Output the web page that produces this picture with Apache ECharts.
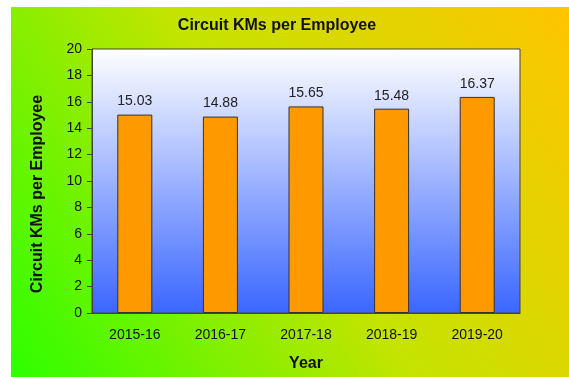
<!DOCTYPE html>
<html>
<head>
<meta charset="utf-8">
<script src="https://cdn.jsdelivr.net/npm/echarts@6/dist/echarts.min.js"></script>
<style>
  html, body { margin: 0; padding: 0; background: #ffffff; width: 569px; height: 377px; overflow: hidden; }
  #chart { position: absolute; left: 11px; top: 7px; width: 558px; height: 370px; }
</style>
</head>
<body>
<div id="chart"></div>
<script>
// Financial years and circuit kilometres per employee
const years = ['2015-16', '2016-17', '2017-18', '2018-19', '2019-20'];
const kmPerEmployee = [15.03, 14.88, 15.65, 15.48, 16.37];
const yTicks = { min: 0, max: 20, interval: 2 };

const font = '"Liberation Sans", Arial, sans-serif';
const chart = echarts.init(document.getElementById('chart'), null, { renderer: 'canvas' });

chart.setOption({
  animation: false,
  backgroundColor: new echarts.graphic.LinearGradient(0, 1, 1, 0, [
    { offset: 0, color: '#2cff00' },
    { offset: 0.5, color: '#c4e400' },
    { offset: 1, color: '#ffc400' }
  ]),
  title: {
    text: 'Circuit KMs per Employee',
    left: 261,
    textAlign: 'center',
    top: 6,
    textStyle: { fontFamily: font, fontSize: 16, fontWeight: 'bold', color: '#111' }
  },
  grid: {
    left: 81, top: 42, width: 428, height: 269,
    show: true,
    borderColor: '#444',
    borderWidth: 1,
    backgroundColor: new echarts.graphic.LinearGradient(0, 0, 0, 1, [
      { offset: 0, color: '#ffffff' },
      { offset: 1, color: '#3a66ff' }
    ])
  },
  xAxis: {
    type: 'category',
    data: years,
    name: 'Year',
    nameLocation: 'middle',
    nameGap: 43,
    nameTextStyle: { fontFamily: font, fontSize: 16, fontWeight: 'bold', color: '#111' },
    axisLine: { lineStyle: { color: '#444' } },
    axisTick: { show: false },
    axisLabel: { fontFamily: font, fontSize: 14, color: '#111', margin: 15 }
  },
  yAxis: {
    type: 'value',
    min: yTicks.min, max: yTicks.max, interval: yTicks.interval,
    name: 'Circuit KMs per Employee',
    nameLocation: 'middle',
    nameGap: 46,
    nameTextStyle: { fontFamily: font, fontSize: 16, fontWeight: 'bold', color: '#111', padding: [0, 26, 0, 0] },
    axisLine: { show: true, lineStyle: { color: '#444' } },
    axisTick: { show: true, length: 5, lineStyle: { color: '#444' } },
    splitLine: { show: false },
    axisLabel: { fontFamily: font, fontSize: 14, color: '#111', margin: 10 }
  },
  series: [{
    type: 'bar',
    data: kmPerEmployee,
    barWidth: 35,
    itemStyle: { color: '#ff9900', borderColor: '#333', borderWidth: 1 },
    label: {
      show: true,
      position: 'top',
      distance: 6,
      formatter: p => p.value.toFixed(2),
      fontFamily: font, fontSize: 14, color: '#222'
    }
  }]
});
</script>
</body>
</html>
